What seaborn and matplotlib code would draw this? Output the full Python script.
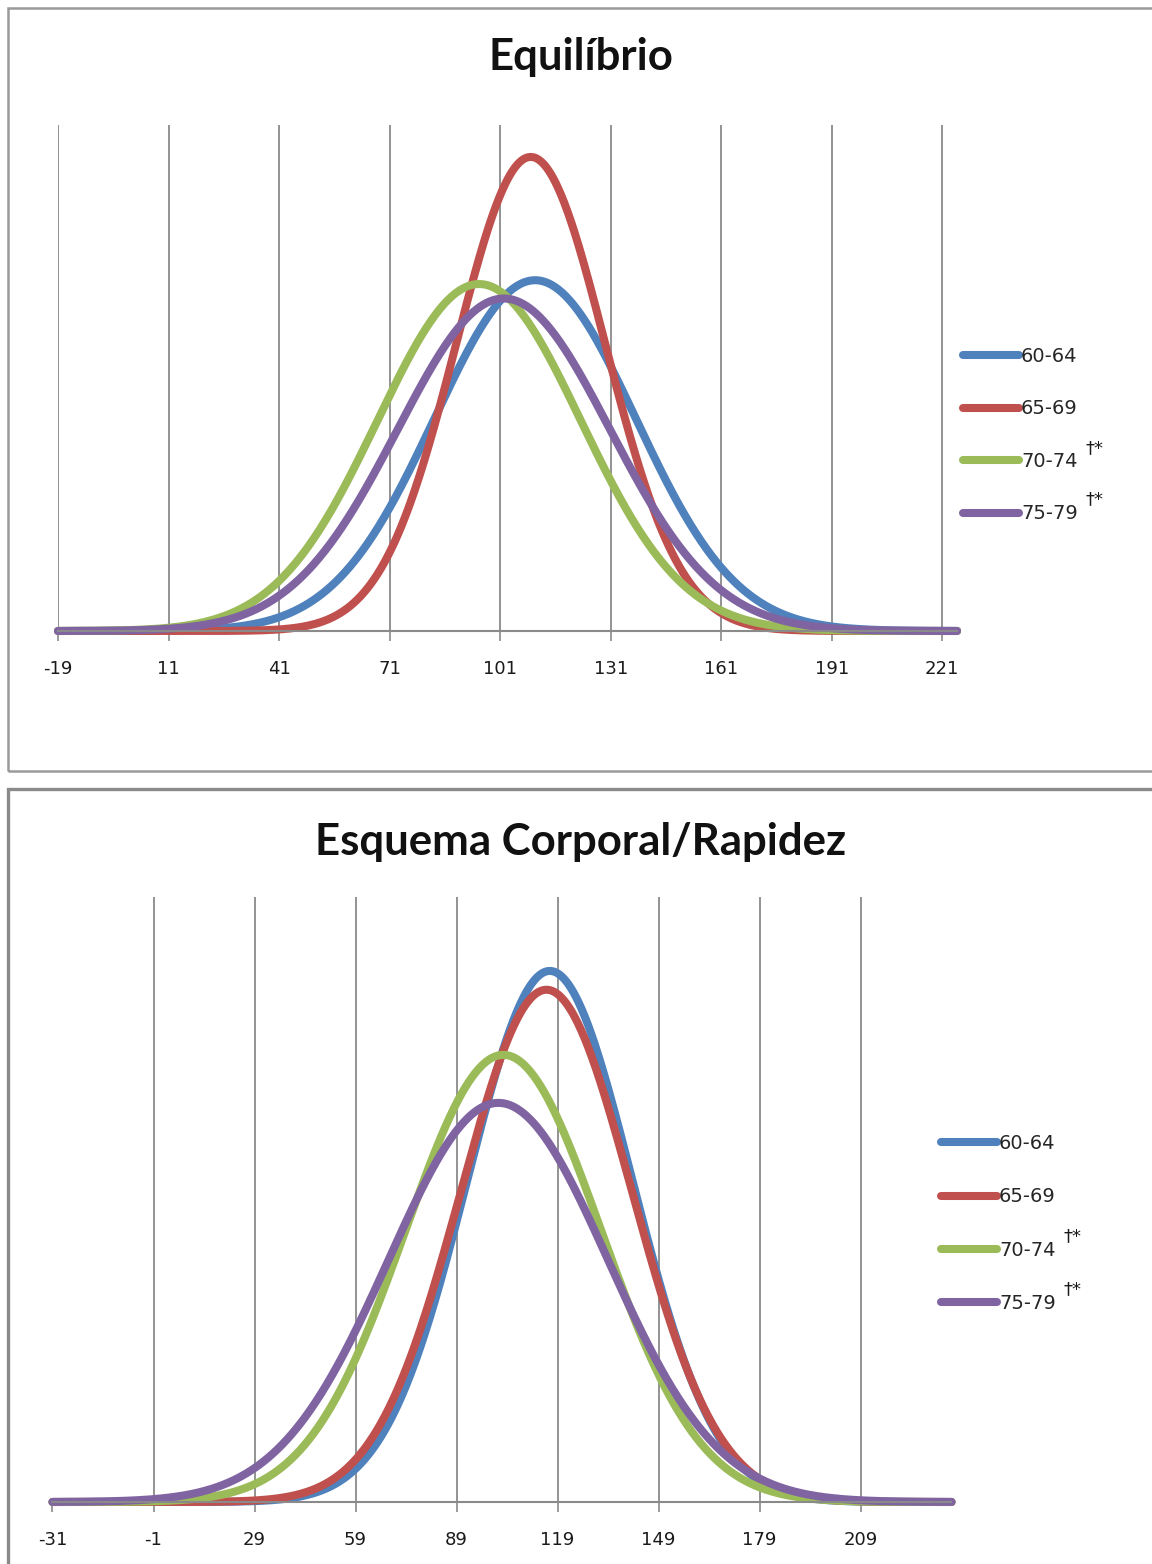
import numpy as np
import pandas as pd
import matplotlib
matplotlib.use("Agg")
import matplotlib.pyplot as plt
from matplotlib.patches import Rectangle
import seaborn as sns

# Age groups and their colours
groups = ["60-64", "65-69", "70-74", "75-79"]
colors = ["#4F81BD", "#C0504D", "#9BBB59", "#8064A2"]
superscripts = ["", "", "†*", "†*"]

# Equilíbrio: mean and standard deviation per group
eq_means = [110.5, 109.3, 95.3, 102.0]
eq_sds = [27.3, 20.2, 27.6, 28.8]
eq_ticks = [-19, 11, 41, 71, 101, 131, 161, 191, 221]
eq_range = (-19, 225)

# Esquema Corporal/Rapidez: mean and standard deviation per group
ec_means = [116.7, 115.7, 102.9, 101.4]
ec_sds = [24.5, 25.4, 29.1, 32.6]
ec_ticks = [-31, -1, 29, 59, 89, 119, 149, 179, 209]
ec_range = (-31, 236)

W, H = 1152, 1564
LW = 5.8


def normal_curves(means, sds, lo, hi):
    x = np.linspace(lo, hi, 800)
    frames = []
    for g, m, s in zip(groups, means, sds):
        y = np.exp(-0.5 * ((x - m) / s) ** 2) / (s * np.sqrt(2 * np.pi))
        frames.append(pd.DataFrame({"x": x, "densidade": y, "grupo": g}))
    return pd.concat(frames, ignore_index=True)


sns.set_theme(style="white")
plt.rcParams["font.family"] = ["DejaVu Sans"]

fig = plt.figure(figsize=(W / 100, H / 100), dpi=100)
fig.patch.set_facecolor("white")


def px_axes(left, right, top, bottom):
    return fig.add_axes([left / W, 1 - bottom / H, (right - left) / W, (bottom - top) / H])


def draw_panel(ax, means, sds, xr, ticks, ymax, title, title_y,
               leg_x, leg_y, leg_space, sup_pos):
    df = normal_curves(means, sds, *xr)
    sns.lineplot(data=df, x="x", y="densidade", hue="grupo",
                 palette=dict(zip(groups, colors)), linewidth=LW,
                 ax=ax, legend=True, sort=False)
    for ln in ax.lines:
        ln.set_clip_on(False)
        ln.set_solid_capstyle("round")
    ax.set_xlim(*xr)
    ax.set_ylim(0, ymax)
    ax.set_xlabel("")
    ax.set_ylabel("")
    ax.set_yticks([])
    ax.set_xticks(ticks)
    ax.set_xticklabels([str(t) for t in ticks])
    ax.tick_params(axis="x", length=7, width=1.2, color="#8a8a8a",
                   pad=14, labelsize=13, labelcolor="#1a1a1a", bottom=True)
    ax.grid(axis="x", color="#8a8a8a", linewidth=1.3)
    ax.set_axisbelow(True)
    for side in ["top", "left", "right"]:
        ax.spines[side].set_visible(False)
    ax.spines["bottom"].set_color("#8a8a8a")
    ax.spines["bottom"].set_linewidth(1.5)
    ax.set_facecolor("none")

    handles, labels = ax.get_legend_handles_labels()
    ax.legend(handles, labels, loc="upper left",
              bbox_to_anchor=(leg_x / W, 1 - leg_y / H),
              bbox_transform=fig.transFigure, frameon=False,
              fontsize=14, handlelength=2.9, handletextpad=0.08,
              labelspacing=leg_space, borderaxespad=0, borderpad=0)
    for leg_line in ax.get_legend().get_lines():
        leg_line.set_linewidth(LW)
        leg_line.set_solid_capstyle("round")

    for sup, pos in zip(superscripts, sup_pos):
        if sup:
            fig.text(pos[0] / W, 1 - pos[1] / H, sup, fontsize=13,
                     color="#1a1a1a", ha="left", va="center")

    fig.text(0.504, 1 - title_y / H, title, fontsize=31.5, fontweight="bold",
             family=["Lato", "DejaVu Sans"], ha="center", va="center",
             color="#111111")


ax1 = px_axes(58, 957, 125, 631)
draw_panel(ax1, eq_means, eq_sds, eq_range, eq_ticks, 0.02108,
           "Equilíbrio", 57, 963, 347, 1.72,
           [None, None, (1086, 448), (1086, 499)])

ax2 = px_axes(52.5, 951.5, 897, 1502)
draw_panel(ax2, ec_means, ec_sds, ec_range, ec_ticks, 0.01855,
           "Esquema Corporal/Rapidez", 842, 941, 1134, 1.77,
           [None, None, (1064, 1236), (1064, 1289)])

# Frames around both chart panels
fig.add_artist(Rectangle((8 / W, 1 - 771 / H), 1.2, (771 - 8) / H,
                         transform=fig.transFigure, fill=False,
                         edgecolor="#9a9a9a", linewidth=1.8))
fig.add_artist(Rectangle((8 / W, -0.1), 1.2, (1 - 789 / H) + 0.1,
                         transform=fig.transFigure, fill=False,
                         edgecolor="#8a8a8a", linewidth=2.4))

fig.savefig("out.png", dpi=100, facecolor="white")
